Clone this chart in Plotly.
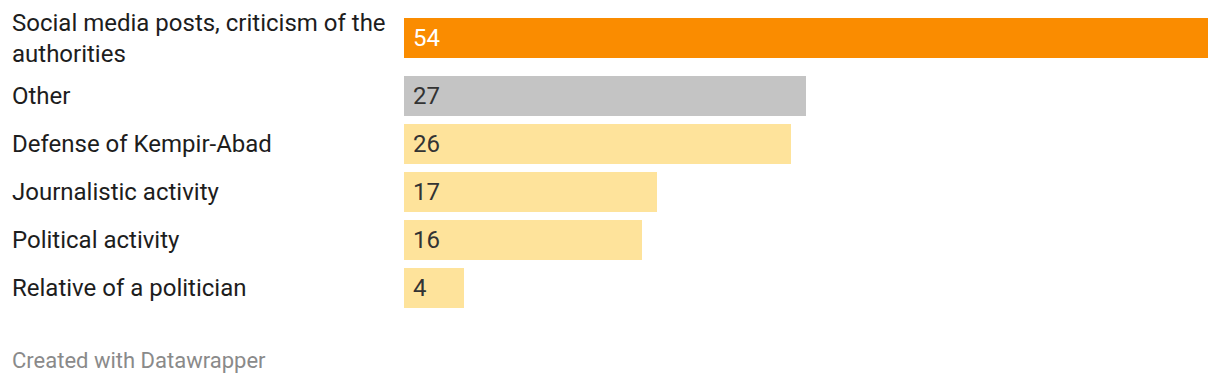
import plotly.graph_objects as go

categories = [
    "Social media posts, criticism of the<br>authorities",
    "Other",
    "Defense of Kempir-Abad",
    "Journalistic activity",
    "Political activity",
    "Relative of a politician",
]
values = [54, 27, 26, 17, 16, 4]
bar_colors = ["#fa8c00", "#c4c4c4", "#fee39b", "#fee39b", "#fee39b", "#fee39b"]
value_colors = ["#ffffff", "#333333", "#333333", "#333333", "#333333", "#333333"]

W, H = 1220, 384
ML, MR = 404, 12
row_h = 48
extra_first = 10
top = 38

# compute row centers (pixel units on the y axis)
centers = []
y = top
for i, c in enumerate(categories):
    centers.append(y)
    y += row_h + (extra_first if i == 0 else 0)

fig = go.Figure()
fig.add_trace(go.Bar(
    x=values, y=centers, orientation="h",
    marker=dict(color=bar_colors, line=dict(width=0)),
    width=40, hoverinfo="skip",
))

label_x = (12 - ML) / (W - ML - MR)
annotations = []
for cat, cy in zip(categories, centers):
    annotations.append(dict(
        text=cat, x=label_x, xref="paper", y=cy, yref="y",
        xanchor="left", yanchor="middle", align="left", showarrow=False,
        xshift=-2,
        font=dict(family="Roboto", size=24, color="#1d1d1d"),
    ))
for v, cy, col in zip(values, centers, value_colors):
    annotations.append(dict(
        text=str(v), x=0, xref="x", y=cy, yref="y", xshift=7,
        xanchor="left", yanchor="middle", showarrow=False,
        font=dict(family="Roboto", size=24, color=col),
    ))
annotations.append(dict(
    text="Created with Datawrapper", x=label_x, xref="paper", y=360, yref="y",
    xanchor="left", yanchor="middle", showarrow=False, xshift=-2,
    font=dict(family="Roboto", size=22, color="#8a8a8a"),
))

fig.update_layout(
    width=W, height=H,
    margin=dict(l=ML, r=MR, t=0, b=0, pad=0),
    paper_bgcolor="white", plot_bgcolor="white",
    showlegend=False,
    xaxis=dict(range=[0, max(values)], visible=False, fixedrange=True),
    yaxis=dict(range=[H, 0], visible=False, fixedrange=True),
    annotations=annotations,
    bargap=0,
)

fig.write_html("out.html", config={"displayModeBar": False},
               post_script="document.body.style.margin='0';document.body.style.overflow='hidden';")
